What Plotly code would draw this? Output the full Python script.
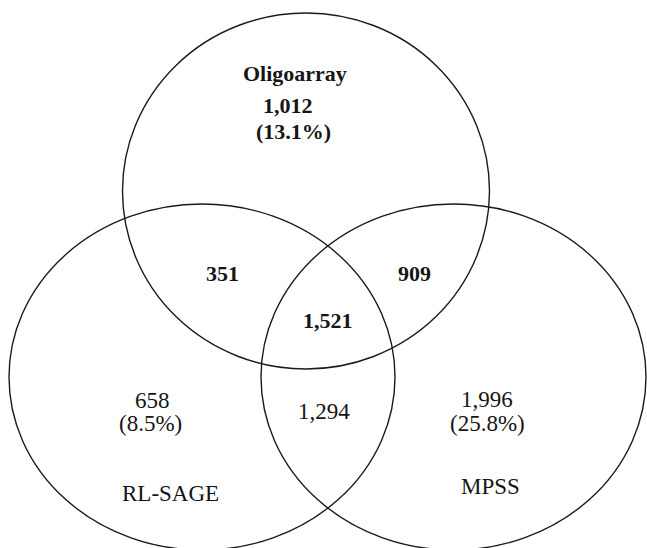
import plotly.graph_objects as go

# ---- data ----
set_names = ["Oligoarray", "RL-SAGE", "MPSS"]
unique_counts = [1012, 658, 1996]          # only in each set
unique_pct = [13.1, 8.5, 25.8]
pair_labels = ["Oligoarray & RL-SAGE", "Oligoarray & MPSS", "RL-SAGE & MPSS"]
pair_counts = [351, 909, 1294]
all_three_count = 1521

# ---- geometry (pixel-like coordinates, y downward) ----
W, H = 647, 548
ellipses = [  # cx, cy, rx, ry for Oligoarray, RL-SAGE, MPSS
    (306, 191, 183.5, 178),
    (202, 377, 193, 173),
    (453.5, 377, 192.5, 173),
]
name_pos = [(295, 73), (170, 493), (490, 486)]
count_pos = [(288, 105), (152, 400), (487, 399)]
pct_pos = [(293, 131), (150, 423), (487, 423)]
pair_pos = [(222, 273), (414, 273), (324, 411)]
all_pos = (328, 320)

SERIF = "Liberation Serif, Times New Roman, serif"
INK = "#151515"

fig = go.Figure()
fig.add_trace(go.Scatter(x=[0, W], y=[0, H], mode="markers",
                         marker=dict(opacity=0), hoverinfo="skip", showlegend=False))

for (cx, cy, rx, ry) in ellipses:
    fig.add_shape(type="circle", xref="x", yref="y",
                  x0=cx - rx, x1=cx + rx, y0=cy - ry, y1=cy + ry,
                  line=dict(color="#1a1a1a", width=1.4), fillcolor="rgba(0,0,0,0)")

def fmt(n):
    return f"{n:,}"

ann = []
def add(text, pos, bold=False, size=22):
    t = f"<b>{text}</b>" if bold else text
    ann.append(dict(x=pos[0], y=pos[1], xref="x", yref="y", text=t, showarrow=False,
                    xanchor="center", yanchor="middle", borderpad=0,
                    font=dict(family=SERIF, size=size, color=INK)))

bold_sets = [True, False, False]
for i in range(3):
    s = 22 if bold_sets[i] else 23
    add(set_names[i], name_pos[i], bold=bold_sets[i], size=s)
    add(fmt(unique_counts[i]), count_pos[i], bold=bold_sets[i], size=s)
    add(f"({unique_pct[i]}%)", pct_pos[i], bold=bold_sets[i], size=s)

pair_bold = [True, True, False]
for i in range(3):
    add(fmt(pair_counts[i]), pair_pos[i], bold=pair_bold[i], size=22 if pair_bold[i] else 23)
add(fmt(all_three_count), all_pos, bold=True, size=22)

fig.update_layout(
    width=W, height=H, margin=dict(l=0, r=0, t=0, b=0),
    paper_bgcolor="white", plot_bgcolor="white",
    xaxis=dict(range=[0, W], visible=False, fixedrange=True),
    yaxis=dict(range=[H, 0], visible=False, fixedrange=True),
    annotations=ann, showlegend=False,
)

fig.write_html("out.html", config={"displayModeBar": False},
               post_script="document.body.style.margin='0';document.body.style.overflow='hidden';")
